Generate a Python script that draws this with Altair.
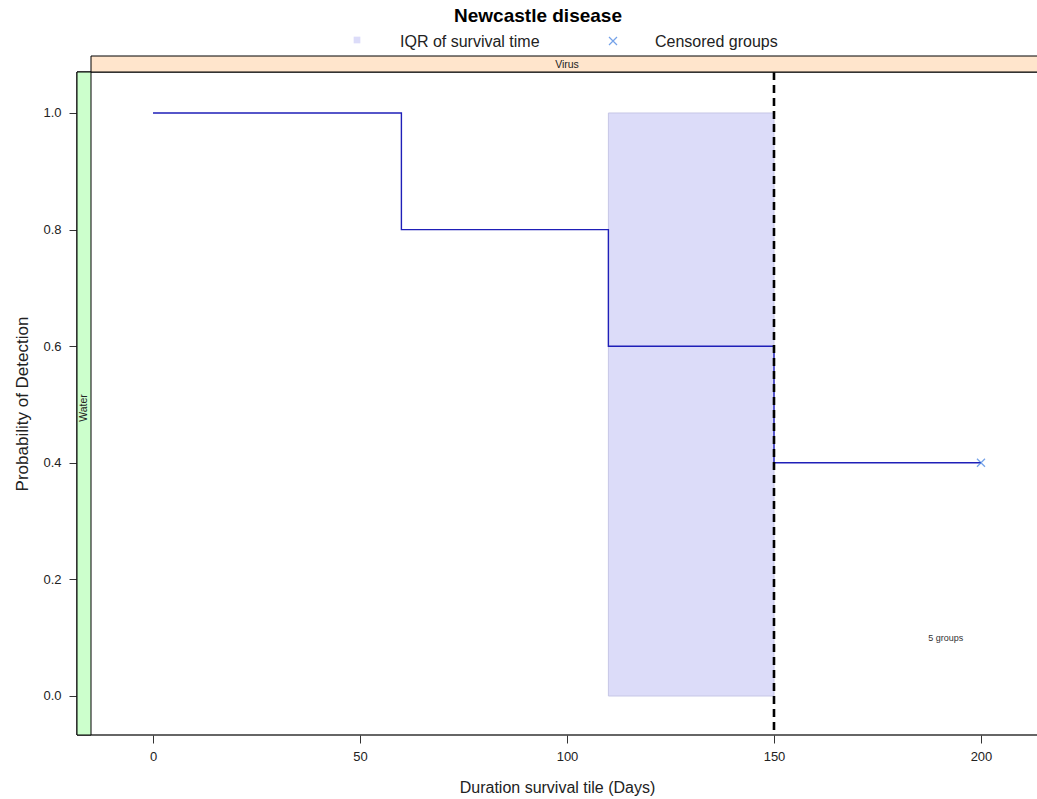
import altair as alt
import pandas as pd

# Kaplan-Meier survival estimate, panel Virus / Water
time_days = [0, 60, 110, 150, 200]
survival = [1.0, 0.8, 0.6, 0.4, 0.4]

# interquartile range and median of the survival time
iqr_start = [110]
iqr_end = [150]
iqr_low = [0.0]
iqr_high = [1.0]
median_time = [150]

# censored observation
censor_time = [200]
censor_surv = [0.4]

groups_label = ["5 groups"]
groups_x = [191.5]
groups_y = [0.1]

x_ticks = [0, 50, 100, 150, 200]
y_ticks = [0.0, 0.2, 0.4, 0.6, 0.8, 1.0]

X_DOMAIN = [-18.36, 213.53]
Y_DOMAIN = [-0.0669, 1.0703]

W, H = 960, 663
FONT = "Liberation Sans"
LINE_BLUE = "#1f1fb8"
CROSS_BLUE = "#3a7be0"
IQR_FILL = "#dcdcf9"
FRAME = "#333"

x_scale = alt.Scale(domain=X_DOMAIN, nice=False, zero=False)
y_scale = alt.Scale(domain=Y_DOMAIN, nice=False, zero=False)

x_axis = alt.Axis(
    values=x_ticks, title="Duration survival tile (Days)", grid=False, domain=False,
    tickSize=8, tickColor="#333", labelFontSize=13, labelColor="#222",
    labelPadding=7, titleFontSize=16, titleFontWeight="normal", titleColor="#222",
    titlePadding=16,
)
y_axis = alt.Axis(
    values=y_ticks, format=".1f", title="Probability of Detection", grid=False,
    domain=False, tickSize=8, tickColor="#333", labelFontSize=13, labelColor="#222",
    labelPadding=8, titleFontSize=17, titleFontWeight="normal", titleColor="#222",
    titlePadding=11,
)


def xq(field):
    return alt.X(f"{field}:Q", scale=x_scale, axis=x_axis)


def yq(field):
    return alt.Y(f"{field}:Q", scale=y_scale, axis=y_axis)


km = pd.DataFrame({"t": time_days, "s": survival})
iqr = pd.DataFrame({"t": iqr_start, "t2": iqr_end, "lo": iqr_low, "hi": iqr_high})
med = pd.DataFrame({"t": median_time})
cens = pd.DataFrame({"t": censor_time, "s": censor_surv})
grp = pd.DataFrame({"t": groups_x, "s": groups_y, "label": groups_label})
one = pd.DataFrame({"k": [0]})

# panel frame: top, left and bottom edges (right edge runs off the page)
frame_top = alt.Chart(one).mark_rule(color=FRAME, strokeWidth=1.5).encode(
    x=alt.value(0), x2=alt.value(W), y=alt.value(0)
)
frame_bottom = alt.Chart(one).mark_rule(color=FRAME, strokeWidth=1.5).encode(
    x=alt.value(0), x2=alt.value(W), y=alt.value(H)
)
frame_left = alt.Chart(one).mark_rule(color=FRAME, strokeWidth=1.5).encode(
    x=alt.value(0), y=alt.value(0), y2=alt.value(H)
)

# conditioning strips (panel decoration)
strip_top = alt.Chart(one).mark_rect(fill="#ffe5cc", stroke="black", strokeWidth=1).encode(
    x=alt.value(14), x2=alt.value(W + 4), y=alt.value(-16), y2=alt.value(0)
)
strip_left = alt.Chart(one).mark_rect(fill="#ccffcc", stroke="black", strokeWidth=1).encode(
    x=alt.value(0), x2=alt.value(14), y=alt.value(0), y2=alt.value(H)
)
strip_top_text = alt.Chart(one).mark_text(fontSize=10.5, color="#222", font=FONT).encode(
    x=alt.value(490), y=alt.value(-7), text=alt.value("Virus")
)
strip_left_text = alt.Chart(one).mark_text(fontSize=10.5, color="#222", font=FONT, angle=270).encode(
    x=alt.value(7), y=alt.value(336), text=alt.value("Water")
)

iqr_band = alt.Chart(iqr).mark_rect(fill=IQR_FILL, stroke="#c6c6e6", strokeWidth=1).encode(
    x=xq("t"), x2="t2", y=yq("lo"), y2="hi"
)
step = alt.Chart(km).mark_line(interpolate="step-after", color=LINE_BLUE, strokeWidth=1.4).encode(
    x=xq("t"), y=yq("s")
)
median_rule = alt.Chart(med).mark_rule(color="black", strokeWidth=2.6, strokeDash=[8, 5]).encode(
    x=xq("t")
)
censored = alt.Chart(cens).mark_point(
    shape="M-1,-1L1,1M-1,1L1,-1", filled=False, size=64, strokeWidth=1.2, color=CROSS_BLUE
).encode(x=xq("t"), y=yq("s"))
groups = alt.Chart(grp).mark_text(fontSize=9, color="#333", font=FONT).encode(
    x=xq("t"), y=yq("s"), text="label:N"
)

# title and key above the panel
title = alt.Chart(one).mark_text(fontSize=19, fontWeight="bold", color="black", font=FONT).encode(
    x=alt.value(461), y=alt.value(-56), text=alt.value("Newcastle disease")
)
key_square = alt.Chart(one).mark_point(shape="square", filled=True, size=45, color=IQR_FILL, opacity=1).encode(
    x=alt.value(280), y=alt.value(-32)
)
key_square_text = alt.Chart(one).mark_text(fontSize=16, align="left", color="#222", font=FONT).encode(
    x=alt.value(323), y=alt.value(-30), text=alt.value("IQR of survival time")
)
key_cross = alt.Chart(one).mark_point(
    shape="M-1,-1L1,1M-1,1L1,-1", filled=False, size=64, strokeWidth=1.2, color=CROSS_BLUE
).encode(x=alt.value(536), y=alt.value(-31))
key_cross_text = alt.Chart(one).mark_text(fontSize=16, align="left", color="#222", font=FONT).encode(
    x=alt.value(578), y=alt.value(-30), text=alt.value("Censored groups")
)

chart = alt.layer(
    iqr_band, step, median_rule, censored, groups,
    frame_top, frame_bottom, frame_left,
    strip_left, strip_top, strip_top_text, strip_left_text,
    title, key_square, key_square_text, key_cross, key_cross_text,
).properties(
    width=W, height=H,
    autosize=alt.AutoSizeParams(type="none"),
    padding={"left": 77, "top": 72, "right": 0, "bottom": 64},
    background="white",
).configure(
    font=FONT,
    view=alt.ViewConfig(strokeWidth=0, strokeOpacity=0),
)

chart.save("out.html", embed_options={"renderer": "svg", "actions": False})
